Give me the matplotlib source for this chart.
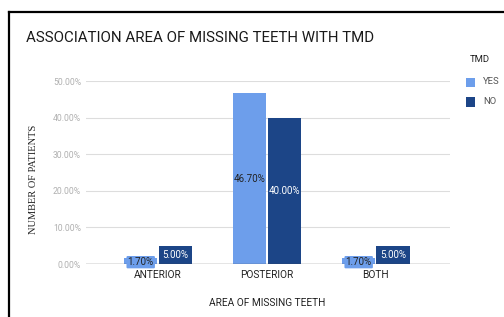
import matplotlib.pyplot as plt
from matplotlib.lines import Line2D
from matplotlib.patches import Rectangle

categories = ['ANTERIOR', 'POSTERIOR', 'BOTH']
yes_vals = [1.7, 46.7, 1.7]
no_vals = [5.0, 40.0, 5.0]
yticks = [0, 10, 20, 30, 40, 50]

YES_C = '#6d9eeb'
NO_C = '#1c4587'

plt.rcParams['font.family'] = ['Roboto', 'DejaVu Sans']

W, H = 504, 317
fig = plt.figure(figsize=(W / 100, H / 100), dpi=100)
ax = fig.add_axes([86 / W, 1 - 264 / H, (450 - 86) / W, (264 - 81.3) / H])

x = list(range(len(categories)))
bw = 0.305
off = 0.158
b1 = ax.bar([i - off for i in x], yes_vals, bw, color=YES_C, zorder=3)
b2 = ax.bar([i + off for i in x], no_vals, bw, color=NO_C, zorder=3)

ax.set_xlim(-0.66, 2.68)
ax.set_ylim(0, 50)
ax.set_yticks(yticks)
ax.set_yticklabels(['%.2f%%' % v for v in yticks], fontsize=6.2, color='#b0b0b0')
ax.set_xticks(x)
ax.set_xticklabels(categories, fontsize=7.3, color='#222222')
ax.tick_params(axis='y', length=0, pad=3.6)
ax.tick_params(axis='x', length=0, pad=4)
for s in ax.spines.values():
    s.set_visible(False)
ax.grid(axis='y', color='#dddddd', linewidth=0.8, zorder=0)
ax.axhline(0, color='#444444', linewidth=0.9, zorder=4)

for bars, vals, col, tc in [(b1, yes_vals, YES_C, '#222222'), (b2, no_vals, NO_C, 'white')]:
    for r, v in zip(bars, vals):
        cx = r.get_x() + r.get_width() / 2
        kw = {}
        if v < 3:
            kw['bbox'] = dict(boxstyle='round,pad=0.12', fc=col, ec='none')
        ax.text(cx, v / 2 if v >= 3 else 0.5, '%.2f%%' % v, ha='center', va='center',
                fontsize=7, color=tc, zorder=5, **kw)

fig.text(26 / W, 1 - 38 / H, 'ASSOCIATION AREA OF MISSING TEETH WITH TMD',
         fontsize=10.8, color='#1a1a1a', ha='left', va='center')
fig.text(267 / W, 1 - 303 / H, 'AREA OF MISSING TEETH', fontsize=7.3,
         color='#222222', ha='center', va='center')
fig.text(33 / W, 1 - 179 / H, 'NUMBER OF PATIENTS', fontsize=7.5, rotation=90,
         family=['Liberation Serif'], color='#222222', ha='center', va='center')

# legend
fig.text(470 / W, 1 - 60 / H, 'TMD', fontsize=6.8, color='#222222', ha='left', va='center')
for yy, lab, col in [(82, 'YES', YES_C), (102, 'NO', NO_C)]:
    fig.patches.append(Rectangle((466 / W, 1 - (yy + 4.5) / H), 9 / W, 9 / H,
                                 transform=fig.transFigure, fc=col, ec='none'))
    fig.text(483 / W, 1 - yy / H, lab, fontsize=6.8, color='#555555', ha='left', va='center')

# frame
fig.lines.append(Line2D([9 / W, 9 / W], [0, 1 - 12 / H], transform=fig.transFigure,
                        color='black', linewidth=1.6))
fig.lines.append(Line2D([9 / W, 1], [1 - 12 / H, 1 - 12 / H], transform=fig.transFigure,
                        color='black', linewidth=1.6))

fig.savefig('out.png', dpi=100)
